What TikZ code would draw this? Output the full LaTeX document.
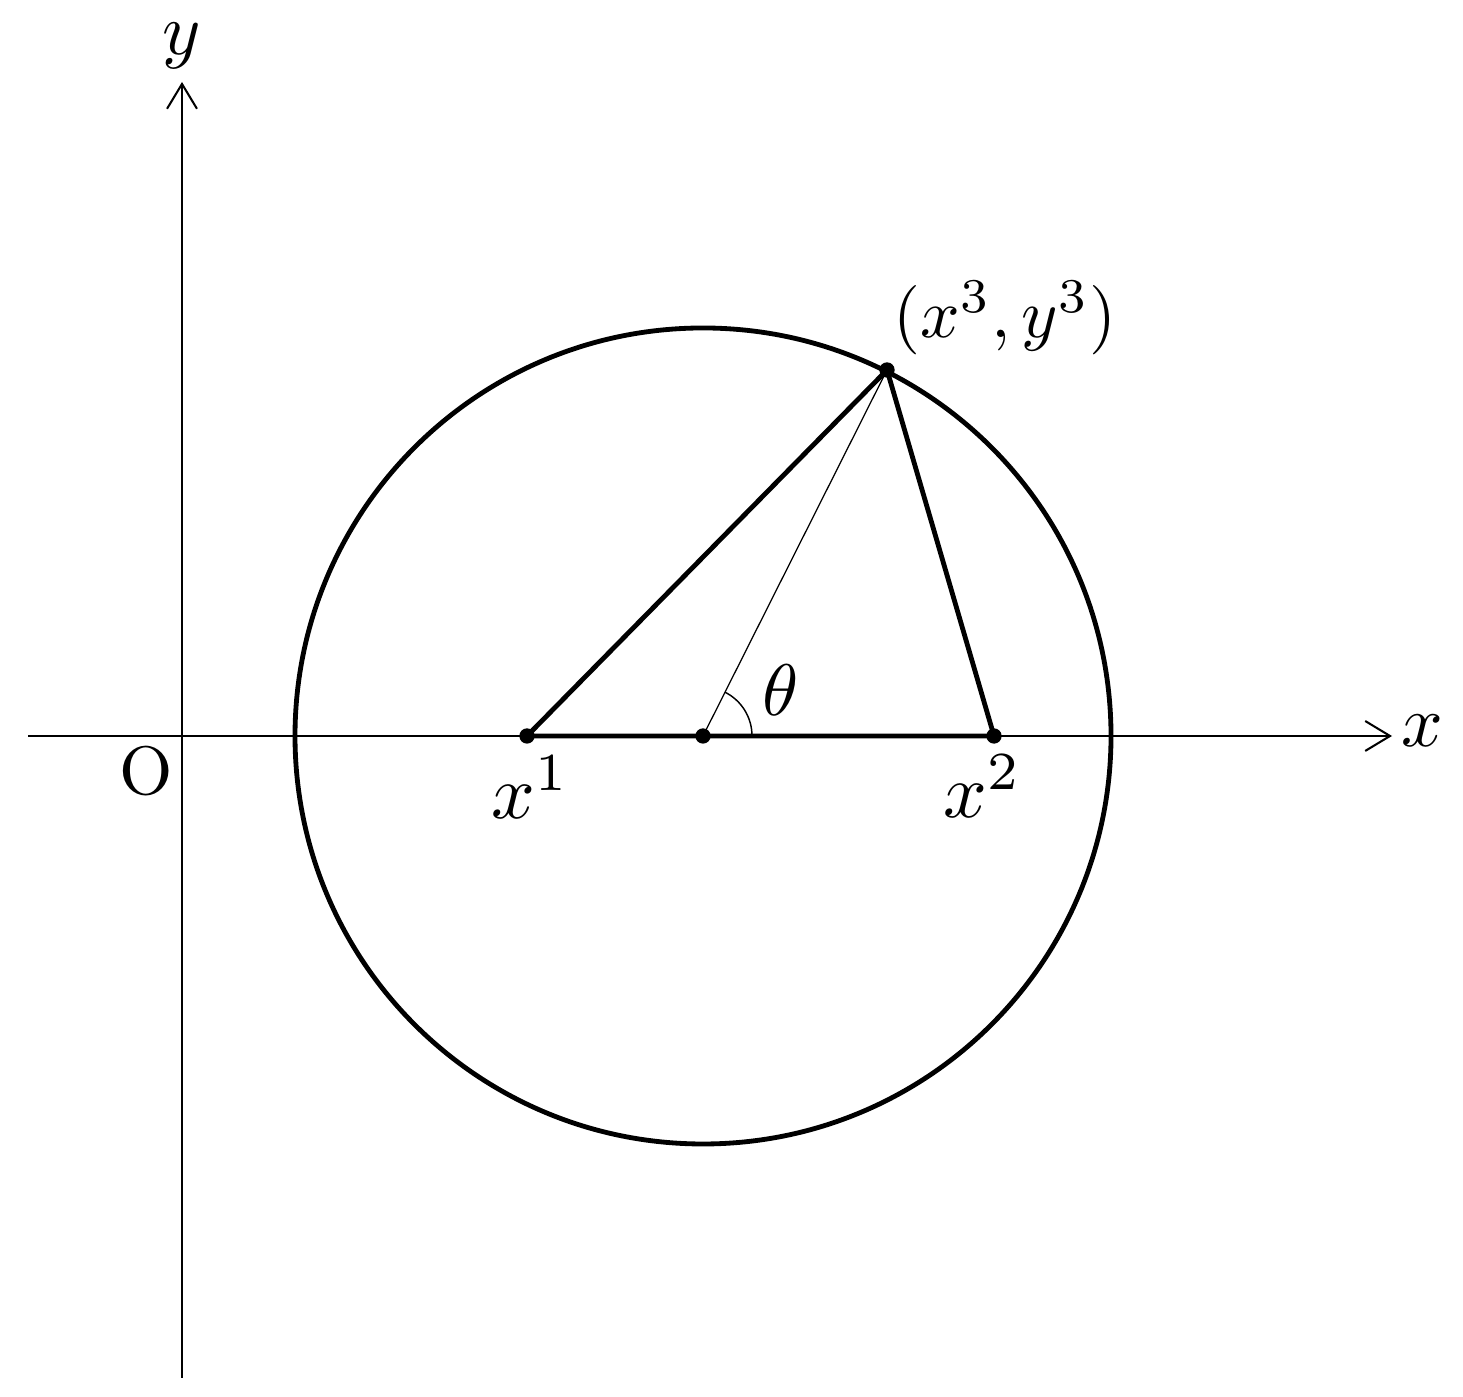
\documentclass[tikz,border=0pt]{standalone}
\usetikzlibrary{arrows.meta}
\begin{document}
\begin{tikzpicture}[x=0.137pt,y=-0.137pt,
  axisline/.style={line width=0.28pt,-{Straight Barb[length=3.4pt,width=4.1pt,line width=0.28pt]}},
  thickline/.style={line width=0.66pt},
  thinline/.style={line width=0.17pt},
  dotmark/.style={circle,fill=black,inner sep=0pt,minimum size=2.1pt},
  lbl/.style={inner sep=0pt}]
\useasboundingbox (0,0) rectangle (1463,1397);
% coordinates
\coordinate (xs) at (28,736);
\coordinate (xe) at (1392,736);
\coordinate (ys) at (182,1378);
\coordinate (ye) at (182,82);
\coordinate (C) at (703,736);
\coordinate (P1) at (527,736);
\coordinate (P2) at (994,736);
\coordinate (P3) at (887,370);
% axes
\draw[axisline] (xs) -- (xe);
\draw[axisline] (ys) -- (ye);
\node[lbl] (xlab) at (1422,731) {$x$};
\node[lbl] (ylab) at (182,46) {$y$};
\node[lbl] (olab) at (146,771) {\scalebox{0.94}{O}};
% circle
\draw[thickline] (C) circle[radius=408];
% triangle
\draw[thickline,line join=round] (P1) -- (P3) -- (P2) -- cycle;
% radius line and angle
\draw[thinline] (C) -- (P3);
\draw[line width=0.2pt] (C) ++(49,0) arc[start angle=0,end angle=-63.3,radius=49];
\node[lbl] (theta) at (781,690) {$\theta$};
% points
\node[dotmark] (d1) at (P1) {};
\node[dotmark] (d2) at (P2) {};
\node[dotmark] (dc) at (C) {};
\node[dotmark] (d3) at (P3) {};
% labels
\node[lbl] (l1) at (531,787) {\scalebox{1.05}{$x^1$}};
\node[lbl] (l2) at (983,786) {\scalebox{1.05}{$x^2$}};
\node[lbl] (l3) at (1005,318) {\scalebox{0.95}{$(x^3,y^3)$}};
\end{tikzpicture}
\end{document}
